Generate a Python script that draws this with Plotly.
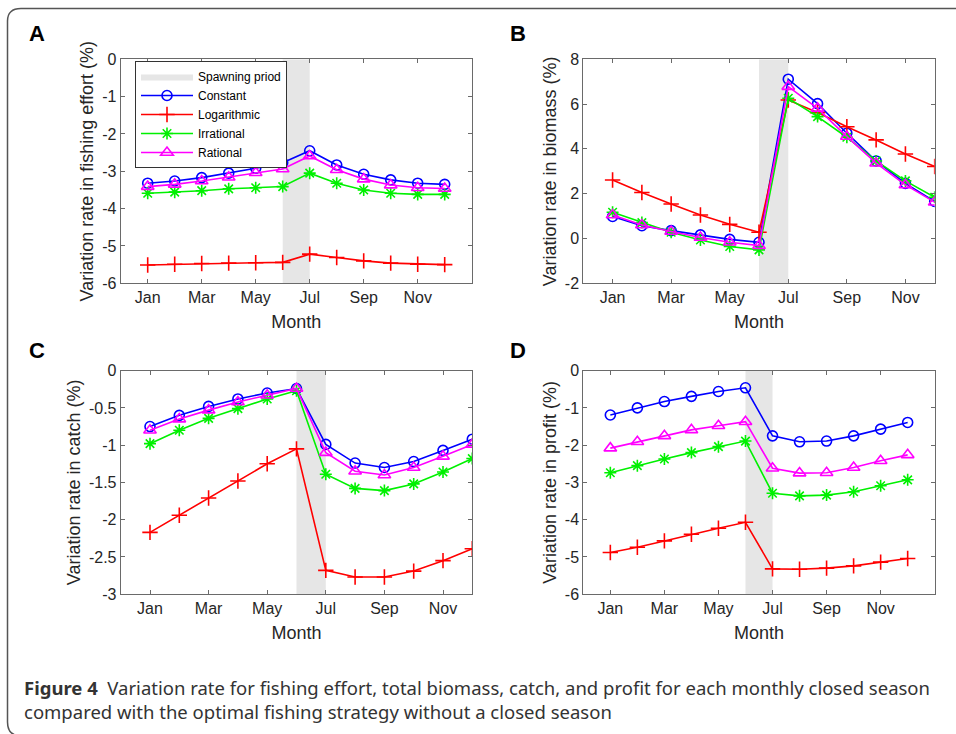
import plotly.graph_objects as go

W, H = 956, 734

months = list(range(1, 13))
tick_vals = [1, 3, 5, 7, 9, 11]
tick_text = ["Jan", "Mar", "May", "Jul", "Sep", "Nov"]
series_names = ["Constant", "Logarithmic", "Irrational", "Rational"]
spawn_label = "Spawning priod"
spawn_months = [6, 7]

# y tick labels (hyphen-minus as in the original)
yticks_a = [-6, -5, -4, -3, -2, -1, 0]
yticks_b = [-2, 0, 2, 4, 6, 8]
yticks_c = [-3, -2.5, -2, -1.5, -1, -0.5, 0]
yticks_d = [-6, -5, -4, -3, -2, -1, 0]

# Panel A: fishing effort
effort_constant = [-3.32, -3.26, -3.17, -3.05, -2.92, -2.77, -2.45, -2.83, -3.08, -3.23, -3.32, -3.35]
effort_log = [-5.51, -5.49, -5.47, -5.46, -5.45, -5.44, -5.22, -5.31, -5.40, -5.46, -5.49, -5.50]
effort_irr = [-3.59, -3.56, -3.52, -3.47, -3.44, -3.41, -3.05, -3.32, -3.50, -3.59, -3.62, -3.62]
effort_rat = [-3.41, -3.35, -3.26, -3.16, -3.04, -2.94, -2.59, -2.96, -3.21, -3.37, -3.44, -3.46]

# Panel B: biomass
bio_constant = [0.98, 0.57, 0.35, 0.16, -0.04, -0.17, 7.11, 6.02, 4.70, 3.46, 2.46, 1.65]
bio_log = [2.61, 2.05, 1.54, 1.05, 0.63, 0.28, 6.18, 5.62, 4.99, 4.40, 3.77, 3.21]
bio_irr = [1.17, 0.71, 0.28, -0.07, -0.36, -0.51, 6.26, 5.44, 4.52, 3.46, 2.57, 1.84]
bio_rat = [1.05, 0.60, 0.31, 0.04, -0.17, -0.32, 6.78, 5.81, 4.55, 3.36, 2.39, 1.62]

# Panel C: catch
catch_constant = [-0.75, -0.60, -0.48, -0.38, -0.30, -0.24, -0.99, -1.24, -1.30, -1.22, -1.07, -0.92]
catch_log = [-2.17, -1.94, -1.71, -1.48, -1.25, -1.05, -2.68, -2.77, -2.77, -2.69, -2.55, -2.39]
catch_irr = [-0.98, -0.80, -0.64, -0.51, -0.38, -0.27, -1.39, -1.58, -1.61, -1.52, -1.36, -1.18]
catch_rat = [-0.80, -0.65, -0.53, -0.42, -0.33, -0.24, -1.10, -1.35, -1.40, -1.30, -1.15, -0.99]

# Panel D: profit
profit_constant = [-1.19, -1.00, -0.83, -0.69, -0.56, -0.46, -1.75, -1.91, -1.89, -1.75, -1.57, -1.39]
profit_log = [-4.88, -4.74, -4.57, -4.39, -4.23, -4.07, -5.32, -5.33, -5.30, -5.24, -5.14, -5.04]
profit_irr = [-2.74, -2.55, -2.37, -2.20, -2.04, -1.89, -3.29, -3.36, -3.34, -3.25, -3.09, -2.93]
profit_rat = [-2.08, -1.91, -1.75, -1.59, -1.48, -1.37, -2.62, -2.75, -2.74, -2.60, -2.42, -2.26]

panels = [
    dict(letter="A", title="Variation rate in fishing effort (%)", yt=yticks_a, xr=[0, 13],
         data=[effort_constant, effort_log, effort_irr, effort_rat],
         px=(120.7, 471.7), py=(59.3, 283.3)),
    dict(letter="B", title="Variation rate in biomass (%)", yt=yticks_b, xr=[0, 12],
         data=[bio_constant, bio_log, bio_irr, bio_rat],
         px=(583.3, 934.7), py=(59.3, 283.3)),
    dict(letter="C", title="Variation rate in catch (%)", yt=yticks_c, xr=[0, 12],
         data=[catch_constant, catch_log, catch_irr, catch_rat],
         px=(120.7, 472.3), py=(370.7, 594.3)),
    dict(letter="D", title="Variation rate in profit (%)", yt=yticks_d, xr=[0, 13],
         data=[profit_constant, profit_log, profit_irr, profit_rat],
         px=(583.3, 934.7), py=(370.7, 594.3)),
]

colors = ["#0000ff", "#ff0000", "#00f000", "#ff00ff"]
symbols = ["circle-open", "cross-thin-open", "asterisk-open", "triangle-up-open"]
sizes = [10, 11, 10, 11]

axis_col = "#6a6a6a"
text_col = "#262626"
font_fam = "Liberation Sans, Arial, sans-serif"

# page offset/scale compensation observed in the rendered screenshot (vertical only)
Y_OFF, Y_SC = 8.0, 0.977


def fy(py):
    """target picture y pixel -> paper fraction"""
    return 1 - ((py - Y_OFF) / Y_SC) / H


def fx(px):
    return px / W


def fmt(v):
    return "%g" % v


fig = go.Figure()
layout = {}
annotations = []

for i, p in enumerate(panels):
    n = "" if i == 0 else str(i + 1)
    xa, ya = "x" + n, "y" + n
    lo, hi = p["yt"][0], p["yt"][-1]
    fig.add_trace(go.Scatter(
        x=[spawn_months[0], spawn_months[1], spawn_months[1], spawn_months[0], spawn_months[0]],
        y=[lo, lo, hi, hi, lo], fill="toself", fillcolor="#e6e6e6", mode="lines",
        line=dict(width=0, color="#e6e6e6"), name=spawn_label, showlegend=(i == 0),
        xaxis=xa, yaxis=ya, hoverinfo="skip"))
    for k, vals in enumerate(p["data"]):
        fig.add_trace(go.Scatter(
            x=months, y=vals, mode="lines+markers", name=series_names[k],
            line=dict(color=colors[k], width=1.6),
            marker=dict(symbol=symbols[k], size=sizes[k], color=colors[k],
                        line=dict(width=1.6, color=colors[k])),
            showlegend=(i == 0), xaxis=xa, yaxis=ya))
    x0, x1 = p["px"]
    y0, y1 = p["py"]
    layout["xaxis" + n] = dict(
        domain=[fx(x0), fx(x1)], range=p["xr"], anchor=ya, tickvals=tick_vals, ticktext=tick_text,
        ticks="inside", ticklen=4, tickcolor=axis_col, showline=True, linecolor=axis_col,
        linewidth=1, mirror="ticks", showgrid=False, zeroline=False,
        tickfont=dict(size=16, color=text_col, family=font_fam),
        title=dict(text="Month", font=dict(size=18, color=text_col, family=font_fam), standoff=9))
    layout["yaxis" + n] = dict(
        domain=[fy(y1), fy(y0)], range=[lo, hi], anchor=xa,
        tickvals=p["yt"], ticktext=[fmt(v) for v in p["yt"]],
        ticks="inside", ticklen=4, tickcolor=axis_col, showline=True, linecolor=axis_col,
        linewidth=1, mirror="ticks", showgrid=False, zeroline=False,
        tickfont=dict(size=16, color=text_col, family=font_fam),
        title=dict(text=p["title"], font=dict(size=18, color=text_col, family=font_fam), standoff=3))
    lx = 36.7 if i % 2 == 0 else 518
    ly = 34 if i < 2 else 351
    annotations.append(dict(text="<b>%s</b>" % p["letter"], x=fx(lx), y=fy(ly), xref="paper",
                            yref="paper", showarrow=False, xanchor="center", yanchor="middle",
                            font=dict(size=22, color="#000000", family=font_fam)))

cap_font = "Noto Sans, sans-serif"
annotations.append(dict(
    text="<b>Figure 4</b>  Variation rate for fishing effort, total biomass, catch, and profit for each monthly closed season"
         "<br>compared with the optimal fishing strategy without a closed season",
    x=fx(22), y=fy(699.5), xref="paper", yref="paper", showarrow=False, xanchor="left",
    yanchor="middle", align="left", font=dict(size=18.5, color="#333333", family=cap_font)))


def P(x, y):
    return "%.5f,%.5f" % (fx(x), fy(y))


frame_path = ("M" + P(970, 8.6) + " L" + P(21, 8.6) + " Q" + P(7.5, 8.6) + " " + P(7.5, 21) +
              " L" + P(7.5, 722) + " Q" + P(7.5, 736) + " " + P(21, 736) + " L" + P(970, 736))

layout.update(
    width=W, height=H, margin=dict(l=0, r=0, t=0, b=0), paper_bgcolor="white",
    plot_bgcolor="white", annotations=annotations,
    shapes=[dict(type="path", path=frame_path, xref="paper", yref="paper",
                 line=dict(color="#555555", width=1.5))],
    legend=dict(x=fx(135), y=fy(61), xanchor="left", yanchor="top", bgcolor="white",
                bordercolor="#333333", borderwidth=1, font=dict(size=12, color="#000000", family=font_fam),
                tracegroupgap=0, itemwidth=52),
    font=dict(family=font_fam),
)
fig.update_layout(**layout)
fig.write_html("out.html")
